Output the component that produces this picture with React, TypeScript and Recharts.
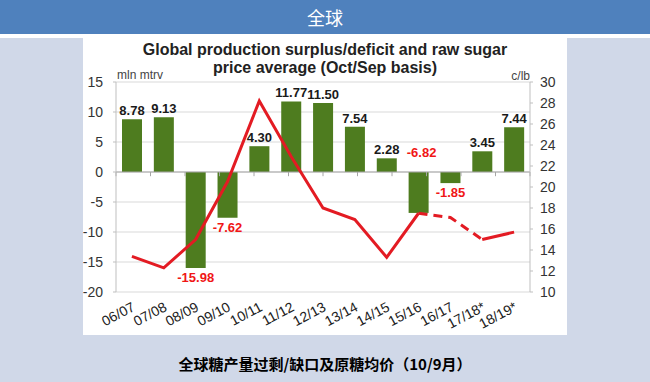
import {
  ComposedChart,
  Bar,
  Line,
  XAxis,
  YAxis,
  CartesianGrid,
  ReferenceLine,
  LabelList,
} from 'recharts';

// seasons (Oct/Sep)
const seasons = [
  '06/07', '07/08', '08/09', '09/10', '10/11', '11/12', '12/13',
  '13/14', '14/15', '15/16', '16/17', '17/18*', '18/19*',
];
// global production surplus/deficit, mln t
const surplus = [8.78, 9.13, -15.98, -7.62, 4.3, 11.77, 11.5, 7.54, 2.28, -6.82, -1.85, 3.45, 7.44];
// raw sugar price average, c/lb
const rawSugarPrice = [13.4, 12.3, 15.0, 20.5, 28.2, 22.9, 18.0, 16.9, 13.3, 17.5, 17.1, 15.0, 15.7];
// the dashed stretch of the price line
const dashFrom = 9;
const dashTo = 11;

const leftTicks = [15, 10, 5, 0, -5, -10, -15, -20];
const rightTicks = [30, 28, 26, 24, 22, 20, 18, 16, 14, 12, 10];

// labels that sit above the zero line instead of under the bar
const labelAboveZero = ['15/16'];

const data = seasons.map((season, i) => ({
  season,
  surplus: surplus[i],
  price: i <= dashFrom || i >= dashTo ? rawSugarPrice[i] : null,
  priceDash: i >= dashFrom && i <= dashTo ? rawSugarPrice[i] : null,
}));

const boundaries = Array.from({ length: seasons.length + 1 }, (_, i) => i);

const FONT = '"Liberation Sans", Arial, sans-serif';
const GREEN = '#4e7c1f';
const RED = '#e31b23';

const BarValueLabel = (props: any) => {
  const { x, y, width, height, value, index } = props;
  const top = Math.min(y, y + height);
  const bottom = Math.max(y, y + height);
  const cx = x + width / 2;
  const season = seasons[index];
  if (value >= 0) {
    return (
      <text x={cx} y={top - 4} textAnchor="middle" fontSize={13} fontWeight="bold" fill="#1a1a1a" fontFamily={FONT}>
        {value.toFixed(2)}
      </text>
    );
  }
  const above = labelAboveZero.includes(season);
  return (
    <text x={cx + (above ? 3 : 0)} y={above ? top - 15 : bottom + 14} textAnchor="middle" fontSize={13} fontWeight="bold" fill="#f01616" fontFamily={FONT}>
      {value.toFixed(2)}
    </text>
  );
};

const SeasonTick = (props: any) => {
  const { x, y, payload } = props;
  return (
    <g transform={`translate(${x + 4},${y + 10})`}>
      <text textAnchor="end" transform="rotate(-28)" fontSize={14} fill="#222" fontFamily={FONT}>
        {payload.value}
      </text>
    </g>
  );
};

export default function App() {
  return (
    <div
      style={{
        position: 'absolute',
        left: 0,
        top: 0,
        width: 650,
        height: 382,
        background: '#d0d8e8',
        overflow: 'hidden',
        fontFamily: FONT,
      }}
    >
      <div
        style={{
          position: 'absolute',
          left: 0,
          top: 0,
          width: 650,
          height: 34,
          background: '#4f81bd',
          color: '#fff',
          textAlign: 'center',
          lineHeight: '34px',
          fontSize: 18,
          fontFamily: '"Noto Sans CJK SC", sans-serif',
        }}
      >
        全球
      </div>
      <div style={{ position: 'absolute', left: 0, top: 34, width: 650, height: 4, background: '#fff' }} />

      <div style={{ position: 'absolute', left: 83, top: 34, width: 484, height: 301, background: '#fff' }}>
        <div
          style={{
            position: 'absolute',
            left: 0,
            top: 7,
            width: 484,
            textAlign: 'center',
            fontSize: 16,
            fontWeight: 'bold',
            lineHeight: '18px',
            color: '#222',
          }}
        >
          Global production surplus/deficit and raw sugar
          <br />
          price average (Oct/Sep basis)
        </div>
        <div style={{ position: 'absolute', left: 34, top: 34, fontSize: 12, lineHeight: '14px', color: '#444' }}>
          mln mtrv
        </div>
        <div style={{ position: 'absolute', right: 37, top: 35, fontSize: 12, lineHeight: '14px', color: '#444' }}>
          c/lb
        </div>

        <ComposedChart
          width={484}
          height={301}
          data={data}
          margin={{ top: 48, right: 7, bottom: 0, left: 3 }}
        >
          <CartesianGrid yAxisId="left" horizontal vertical={false} stroke="#d9d9d9" />
          <XAxis
            xAxisId="cat"
            dataKey="season"
            interval={0}
            axisLine={false}
            tickLine={false}
            height={43}
            tick={<SeasonTick />}
          />
          <XAxis xAxisId="num" type="number" domain={[0, seasons.length]} hide />
          <YAxis
            yAxisId="left"
            domain={[-20, 15]}
            ticks={leftTicks}
            interval={0}
            width={30}
            tickSize={3}
            tickMargin={10}
            stroke="#bfbfbf"
            tick={{ fontSize: 14, fill: '#333', fontFamily: FONT }}
          />
          <YAxis
            yAxisId="right"
            orientation="right"
            domain={[10, 30]}
            ticks={rightTicks}
            interval={0}
            width={30}
            tickSize={3}
            tickMargin={7}
            stroke="#bfbfbf"
            tick={{ fontSize: 14, fill: '#333', fontFamily: FONT }}
          />
          <Bar xAxisId="cat" yAxisId="left" dataKey="surplus" fill={GREEN} barSize={20} isAnimationActive={false}>
            <LabelList dataKey="surplus" content={<BarValueLabel />} />
          </Bar>
          <ReferenceLine xAxisId="cat" yAxisId="left" y={0} stroke="#a6a6a6" strokeWidth={1} />
          {boundaries.map((b) => (
            <ReferenceLine
              key={b}
              xAxisId="num"
              yAxisId="left"
              segment={[
                { x: b, y: 0 },
                { x: b, y: -0.7 },
              ]}
              stroke="#a6a6a6"
            />
          ))}
          <Line
            xAxisId="cat"
            yAxisId="right"
            dataKey="price"
            stroke={RED}
            strokeWidth={3}
            dot={false}
            connectNulls={false}
            isAnimationActive={false}
          />
          <Line
            xAxisId="cat"
            yAxisId="right"
            dataKey="priceDash"
            stroke={RED}
            strokeWidth={3}
            strokeDasharray="9 6"
            dot={false}
            isAnimationActive={false}
          />
        </ComposedChart>
      </div>

      <div
        style={{
          position: 'absolute',
          left: 0,
          top: 352,
          width: 650,
          textAlign: 'center',
          fontSize: 15,
          fontWeight: 'bold',
          lineHeight: '24px',
          color: '#000',
          fontFamily: '"Noto Sans CJK SC", sans-serif',
        }}
      >
        全球糖产量过剩/缺口及原糖均价（10/9月）
      </div>
    </div>
  );
}
